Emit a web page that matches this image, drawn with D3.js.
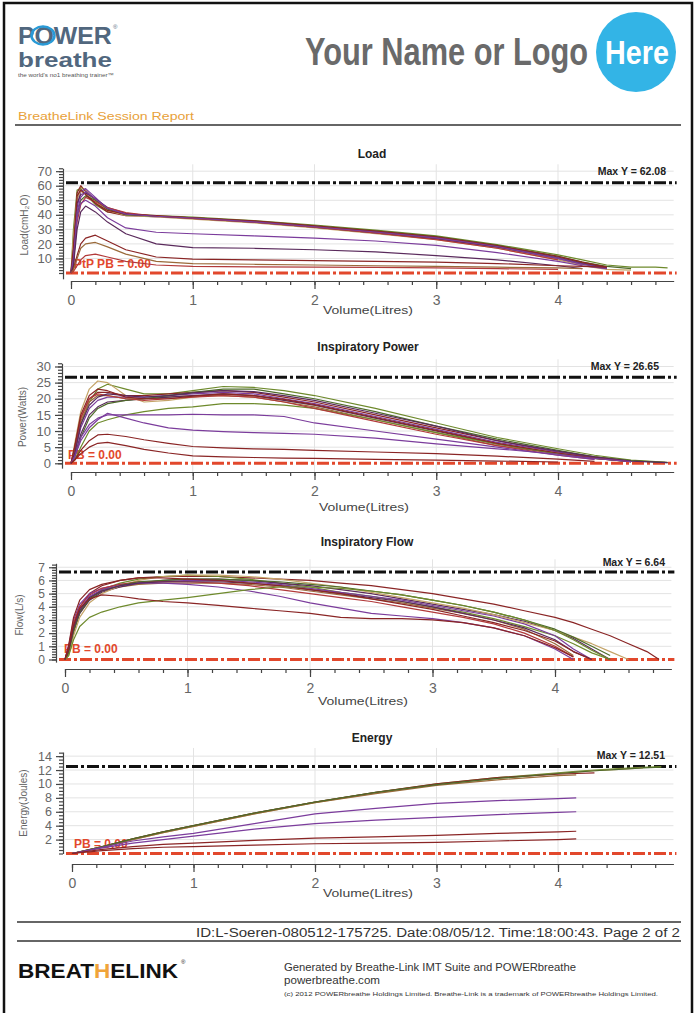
<!DOCTYPE html>
<html><head><meta charset="utf-8">
<script src="https://cdn.jsdelivr.net/npm/d3@7"></script>
<style>body{margin:0;background:#fff}svg{display:block}</style>
</head><body>
<script>
// ================= DATA =================
const xTicks = [0, 1, 2, 3, 4];
const loadTicks = [10, 20, 30, 40, 50, 60, 70];
const powerTicks = [0, 5, 10, 15, 20, 25, 30];
const flowTicks = [0, 1, 2, 3, 4, 5, 6, 7];
const energyTicks = [2, 4, 6, 8, 10, 12, 14];
const maxLoad = 62.08, maxPower = 26.65, maxFlow = 6.64, maxEnergy = 12.51;
const palette = ["#6e8a2c", "#8a2525", "#7b3c9c", "#9a6a3a", "#5a2a5c", "#b23a3a", "#c4a468", "#4e6a2a"];

// Load (cmH2O) vs volume
const loadVol = [0, 0.02, 0.05, 0.08, 0.12, 0.2, 0.3, 0.45, 0.7, 1.0, 1.5, 2.0, 2.5, 3.0, 3.5, 4.0, 4.2, 4.4, 4.6, 4.8, 4.9];
const loadSeries = [
  [0, 30, 57, 58, 54, 47, 42, 40.5, 39.5, 38.5, 36, 33, 29.5, 25.5, 19.5, 12.5, 9, 5.5, 4, 4, 3.5],
  [0, 20, 55, 60, 56, 48, 42, 39.5, 39, 38, 35.5, 32, 28.5, 24.5, 18.5, 11, 7, 3.5],
  [0, 10, 50, 59, 57, 50, 43, 40, 39, 37.5, 35, 31.5, 28, 24, 18, 10, 6, 3],
  [0, 5, 45, 56, 58, 52, 44, 40, 38.5, 37.5, 35, 31.5, 27.5, 23.5, 17.5, 9.5, 5.5],
  [0, 25, 52, 56, 55, 49, 43, 39.5, 38.5, 37, 34.5, 31, 27, 23, 17, 9, 5, 2.5, 2],
  [0, 15, 48, 54, 55, 51, 45, 41, 39, 37.5, 35, 31.5, 27.5, 23.5, 18, 10.5, 6.5, 3.5],
  [0, 12, 40, 50, 53, 50, 44, 40, 39, 38, 35.5, 32.5, 29, 25, 19, 11.5, 7.5, 4.5, 3],
  [0, 8, 35, 47, 52, 49, 45, 41.5, 39, 37.5, 35, 31.5, 27.5, 23, 17, 9],
  [0, 18, 53, 57, 54, 48, 43, 40.5, 39.5, 38, 35.8, 32.5, 28.8, 24.8, 18.8, 11.5, 7.5, 4],
  [0, 6, 42, 52, 56, 51, 44.5, 40.5, 39, 37.8, 35.2, 31.8, 28.2, 24.2, 18.2, 10.2, 6.2, 3],
  [0, 10, 38, 48, 50, 46, 38, 31, 28, 27, 25.5, 24, 22, 19, 14, 8, 5, 3],
  [0, 5, 30, 42, 46, 42, 35, 27, 20, 17.5, 17, 16, 14.5, 12, 9, 5, 3],
  [0, 3, 12, 20, 24, 26, 22, 16, 11, 9.5, 9, 8.5, 8, 7.5, 6.5, 5, 4.5, 4],
  [0, 2, 10, 17, 20, 21, 18, 13, 8, 6.5, 6, 5.5, 5, 4.5, 4, 3.5, 3],
  [0, 1, 5, 9, 12, 13, 11, 8, 5.5, 4.5, 4.2, 4, 3.8, 3.5, 3, 2.5]
];
const loadColors = [0, 1, 3, 2, 6, 4, 7, 5, 1, 2, 2, 4, 1, 3, 5];

// Inspiratory power (W) vs volume
const powerVol = [0, 0.03, 0.08, 0.15, 0.22, 0.3, 0.45, 0.6, 0.8, 1.0, 1.25, 1.5, 1.75, 2.0, 2.5, 3.0, 3.5, 4.0, 4.3, 4.6, 4.9];
const powerSeries = [
  [0, 4, 12, 19, 23, 24.5, 23, 21.5, 21.5, 22.5, 23.8, 23.5, 22.5, 21, 17, 12.5, 8, 4.5, 2.5, 1, 0.3],
  [0, 6, 16, 23, 25.5, 25, 21, 19, 19.5, 20.5, 21.5, 21, 19.5, 18, 14, 10, 6, 3, 1.5, 0.5],
  [0, 5, 14, 20, 22, 22, 21, 21, 21.5, 22, 22.5, 22, 20.5, 19, 15, 11, 7, 3.5, 2, 0.6],
  [0, 3, 11, 17, 19.5, 20.5, 20.5, 20.5, 21, 21.5, 22, 21.5, 20, 18.5, 14.5, 10.5, 6.5, 3.5, 1.8, 0.5],
  [0, 4, 13, 19, 21, 21, 20, 20, 20.5, 21, 21, 20.5, 19, 17.5, 13.5, 9.5, 5.5, 3, 1.5],
  [0, 2, 9, 15, 17.5, 19, 19.5, 20, 20.5, 21, 21.5, 21, 19.5, 18, 14, 10, 6, 3, 1.5, 0.5],
  [0, 2, 8, 14, 17, 18.5, 19.5, 20, 21, 22, 23, 23, 21.5, 20, 16, 11.5, 7.5, 4, 2, 0.8, 0.2],
  [0, 1, 5, 10, 12.5, 13.5, 15, 16, 17, 17.5, 18.5, 18.5, 18, 17, 13.5, 9.5, 6, 3, 1.5, 0.5],
  [0, 4, 14, 20, 21.5, 21, 20, 19.5, 20, 20.5, 21, 20.5, 19, 17, 13, 9, 5.5, 2.5, 1.2],
  [0, 3, 12, 18, 20.5, 21.5, 21, 20.5, 21, 21.8, 22.5, 22.2, 21, 19.5, 15.5, 11.5, 7, 3.8, 2, 0.7, 0.2],
  [0, 5, 15, 21, 23, 22.5, 20.5, 20, 20, 20.8, 21.5, 21, 19.8, 18.2, 14.2, 10.2, 6.2, 3.2, 1.6, 0.5],
  [0, 2, 8, 12, 14, 15, 15, 15, 15, 15.2, 15, 15, 14.5, 12.5, 10, 7.5, 5, 2.5, 1.2],
  [0, 2, 7, 11, 13.5, 15.5, 14, 12.5, 11, 10.3, 9.8, 9.5, 9.3, 9, 7.8, 6, 4.5, 2.8, 1.5, 0.5],
  [0, 1, 4, 7, 8.8, 9, 8.3, 7.3, 6.2, 5.2, 4.8, 4.5, 4.3, 4, 3.5, 3, 2.2, 1.3, 0.6],
  [0, 1, 3, 5, 6.2, 6.5, 5.5, 4.3, 3.2, 2.3, 2, 1.8, 1.6, 1.5, 1.2, 1, 0.7, 0.4]
];
const powerColors = [0, 6, 1, 2, 3, 4, 7, 0, 5, 4, 1, 2, 2, 1, 1];

// Inspiratory flow (L/s) vs volume
const flowVol = [0, 0.03, 0.07, 0.12, 0.2, 0.3, 0.45, 0.6, 0.8, 1.0, 1.25, 1.5, 1.75, 2.0, 2.25, 2.5, 2.75, 3.0, 3.25, 3.5, 3.75, 4.0, 4.15, 4.3, 4.45, 4.6, 4.75, 4.85];
const flowSeries = [
  [0, 1, 2.5, 4, 5, 5.6, 6, 6.2, 6.3, 6.3, 6.3, 6.2, 6.1, 6, 5.8, 5.6, 5.3, 5, 4.6, 4.2, 3.7, 3.2, 2.8, 2.3, 1.8, 1.2, 0.6, 0],
  [0, 0.5, 2, 3.5, 4.6, 5.3, 5.8, 6.1, 6.3, 6.4, 6.3, 6.1, 5.8, 5.5, 5.1, 4.8, 4.4, 4.0, 3.6, 3.1, 2.5, 1.8, 1.2, 0.5, 0],
  [0, 1, 3, 4.2, 5, 5.4, 5.7, 5.8, 5.9, 6.0, 6.0, 5.9, 5.7, 5.4, 5.1, 4.8, 4.5, 4.1, 3.7, 3.3, 2.7, 1.8, 0.8, 0],
  [0, 0.8, 2.6, 3.8, 4.7, 5.2, 5.5, 5.7, 5.8, 5.8, 5.8, 5.7, 5.5, 5.2, 4.9, 4.6, 4.3, 3.9, 3.5, 3.0, 2.3, 1.2, 0.3],
  [0, 0.6, 2.2, 3.5, 4.5, 5.1, 5.5, 5.8, 6.0, 6.1, 6.1, 6.0, 5.8, 5.6, 5.3, 5.0, 4.6, 4.2, 3.8, 3.4, 2.9, 2.2, 1.6, 0.8, 0],
  [0, 0.3, 1.8, 3.2, 4.3, 5.0, 5.6, 6.0, 6.3, 6.4, 6.4, 6.3, 6.1, 5.8, 5.5, 5.1, 4.7, 4.3, 3.9, 3.4, 2.8, 2.2, 1.7, 1.2, 0.6, 0],
  [0, 0.9, 2.8, 4.0, 4.9, 5.4, 5.7, 5.9, 5.9, 5.9, 5.8, 5.6, 5.3, 5.0, 4.7, 4.4, 4.0, 3.6, 3.2, 2.7, 2.0, 1.0, 0.2],
  [0, 0.7, 2.5, 3.8, 4.8, 5.3, 5.6, 5.8, 5.8, 5.7, 5.5, 5.2, 4.8, 4.3, 3.9, 3.5, 3.3, 3.1, 2.8, 2.4, 1.8, 0.8, 0],
  [0, 0.5, 2.2, 3.6, 4.6, 5.2, 5.6, 5.9, 6.0, 6.1, 6.1, 6.0, 5.9, 5.7, 5.5, 5.2, 4.9, 4.5, 4.1, 3.6, 3.0, 2.3, 1.7, 1.0, 0.3],
  [0, 0.7, 2.4, 3.7, 4.7, 5.2, 5.6, 5.8, 5.9, 5.9, 5.9, 5.8, 5.6, 5.3, 5.0, 4.7, 4.4, 4.0, 3.5, 3.0, 2.4, 1.5, 0.6, 0],
  [0, 1.1, 3.2, 4.5, 5.3, 5.7, 6.0, 6.2, 6.2, 6.1, 6.0, 5.8, 5.6, 5.3, 5.0, 4.6, 4.2, 3.8, 3.3, 2.8, 2.2, 1.4, 0.6, 0],
  [0, 0.3, 1.5, 2.5, 3.2, 3.6, 4.0, 4.3, 4.5, 4.7, 5.0, 5.3, 5.5, 5.5, 5.4, 5.2, 4.9, 4.5, 4.1, 3.6, 3.0, 2.2, 1.5, 0.7, 0],
  [0, 0.8, 2.6, 3.9, 4.6, 4.9, 4.8, 4.6, 4.4, 4.3, 4.1, 3.9, 3.7, 3.5, 3.2, 3.1, 3.1, 3.0, 2.8, 2.4, 1.8, 0.9, 0.2]
];
const flowColors = [1, 0, 2, 3, 4, 6, 5, 2, 7, 4, 1, 0, 1];

// Energy (J) vs volume
const energyVol = [0, 0.25, 0.5, 0.75, 1.0, 1.5, 2.0, 2.5, 3.0, 3.5, 4.0, 4.15, 4.3, 4.5, 4.7, 4.85];
const energySeries = [
  [0, 1.0, 2.1, 3.1, 4.0, 5.8, 7.4, 8.8, 10.0, 10.9, 11.6, 11.8, 12.0, 12.2, 12.4, 12.5],
  [0, 0.9, 2.0, 3.0, 3.9, 5.7, 7.3, 8.7, 9.9, 10.8, 11.5, 11.7, 11.9, 12.1, 12.3],
  [0, 1.0, 2.1, 3.1, 4.0, 5.8, 7.4, 8.8, 10.0, 10.9, 11.4, 11.5, 11.6],
  [0, 0.9, 2.0, 3.0, 3.9, 5.7, 7.3, 8.6, 9.8, 10.6, 11.2, 11.3],
  [0, 1.0, 2.1, 3.1, 4.0, 5.8, 7.4, 8.8, 9.9, 10.8, 11.5, 11.7, 11.9, 12.1, 12.3, 12.4],
  [0, 0.9, 1.8, 2.4, 2.9, 4.3, 5.7, 6.5, 7.2, 7.6, 7.9, 8.0],
  [0, 0.8, 1.5, 2.0, 2.5, 3.5, 4.3, 4.8, 5.2, 5.6, 5.9, 6.0],
  [0, 0.6, 1.0, 1.3, 1.5, 1.9, 2.2, 2.4, 2.6, 2.9, 3.1, 3.2],
  [0, 0.4, 0.7, 0.9, 1.0, 1.2, 1.4, 1.5, 1.6, 1.8, 2.0, 2.1]
];
const energyColors = [0, 6, 1, 3, 7, 2, 2, 1, 1];

// ================= DRAWING =================
const W = 696, H = 1013;
const svg = d3.select("body").append("svg").attr("width", W).attr("height", H)
  .style("font-family", "'Liberation Sans', Arial, sans-serif");

// page frame
svg.append("path").attr("d", `M4,${H} V3 H692 V${H}`).attr("fill", "none")
  .attr("stroke", "#111").attr("stroke-width", 2.5);

// ---- header ----
const hdr = svg.append("g");
hdr.append("text").attr("transform", "translate(18,43.5) scale(1.08,1)").text("POWER")
  .attr("font-size", 23).attr("font-weight", "bold").attr("fill", "#51677e");
hdr.append("ellipse").attr("cx", 43).attr("cy", 35.5).attr("rx", 11.5).attr("ry", 9)
  .attr("fill", "none").attr("stroke", "#2a9ad6").attr("stroke-width", 2.5);
hdr.append("text").attr("x", 113).attr("y", 29).text("®").attr("font-size", 6).attr("fill", "#51677e");
hdr.append("text").attr("transform", "translate(18,67) scale(1.3,1)").text("breathe")
  .attr("font-size", 20).attr("font-weight", "bold").attr("fill", "#51677e");
hdr.append("text").attr("x", 18).attr("y", 77).text("the world's no1 breathing trainer™")
  .attr("font-size", 5.5).attr("fill", "#555")
  .attr("textLength", 96).attr("lengthAdjust", "spacingAndGlyphs");

hdr.append("text").attr("transform", "translate(305,65) scale(0.81,1)").text("Your Name or Logo")
  .attr("font-size", 38).attr("font-weight", "bold").attr("fill", "#6a6a6a");
hdr.append("circle").attr("cx", 636).attr("cy", 52).attr("r", 40).attr("fill", "#33b4e6");
hdr.append("text").attr("transform", "translate(637,64) scale(0.87,1)").attr("text-anchor", "middle").text("Here")
  .attr("font-size", 33).attr("font-weight", "bold").attr("fill", "#fff");

hdr.append("text").attr("x", 18).attr("y", 120).text("BreatheLink Session Report")
  .attr("font-size", 11).attr("fill", "#e8a13a")
  .attr("textLength", 176).attr("lengthAdjust", "spacingAndGlyphs");
hdr.append("line").attr("x1", 15).attr("x2", 681).attr("y1", 125).attr("y2", 125)
  .attr("stroke", "#333").attr("stroke-width", 1.5);

// ---- panels ----
const panels = [
  { title: "Load", titleX: 372, titleY: 158, x0: 71, xUnit: 121.75, axisX: 63, zeroY: 273, maxY: 182.7,
    maxVal: maxLoad, yLo: -4, yHi: 72, yTicks: loadTicks, yMinor: 2, axisY: 281, yFont: 13,
    vol: loadVol, series: loadSeries, colors: loadColors, yLabel: "Load(cmH₂O)", yLabelX: 28, yLabelY: 225,
    pb: "PtP PB = 0.00", pbX: 74, pbY: 268, maxText: "Max Y = 62.08", maxTextX: 666, maxTextY: 175, xLabelY: 314 },
  { title: "Inspiratory Power", titleX: 368, titleY: 351, x0: 71, xUnit: 121.75, axisX: 62, zeroY: 463.3, maxY: 377.3,
    maxVal: maxPower, yLo: -1.5, yHi: 31, yTicks: powerTicks, yMinor: 1, axisY: 472, yFont: 13,
    vol: powerVol, series: powerSeries, colors: powerColors, yLabel: "Power(Watts)", yLabelX: 26, yLabelY: 417,
    pb: "PB = 0.00", pbX: 68, pbY: 459, maxText: "Max Y = 26.65", maxTextX: 659, maxTextY: 370, xLabelY: 511 },
  { title: "Inspiratory Flow", titleX: 367, titleY: 546, x0: 65, xUnit: 122.5, axisX: 56, zeroY: 659.5, maxY: 572,
    maxVal: maxFlow, yLo: -0.2, yHi: 7.3, yTicks: flowTicks, yMinor: 0.2, axisY: 669, yFont: 12,
    vol: flowVol, series: flowSeries, colors: flowColors, yLabel: "Flow(L/s)", yLabelX: 23, yLabelY: 615,
    pb: "PB = 0.00", pbX: 64, pbY: 653, maxText: "Max Y = 6.64", maxTextX: 665, maxTextY: 566, xLabelY: 705 },
  { title: "Energy", titleX: 372, titleY: 742, x0: 72, xUnit: 121.5, axisX: 63, zeroY: 853.5, maxY: 766.5,
    maxVal: maxEnergy, yLo: 0, yHi: 14.6, yTicks: energyTicks, yMinor: 0.5, axisY: 864, yFont: 12.5,
    vol: energyVol, series: energySeries, colors: energyColors, yLabel: "Energy(Joules)", yLabelX: 27, yLabelY: 803,
    pb: "PB = 0.00", pbX: 74, pbY: 848, maxText: "Max Y = 12.51", maxTextX: 665, maxTextY: 759, xLabelY: 897 }
];

const dashPattern = "12,3,3,3";

panels.forEach(p => {
  const g = svg.append("g");
  const xMax = 4.95;
  const x = d3.scaleLinear().domain([0, xMax]).range([p.x0, p.x0 + xMax * p.xUnit]);
  const k = (p.zeroY - p.maxY) / p.maxVal;
  const y = d3.scaleLinear().domain([p.yLo, p.yHi]).range([p.zeroY - p.yLo * k, p.zeroY - p.yHi * k]);
  const xr = x(xMax);
  const topY = y(p.yHi);

  // title
  g.append("text").attr("x", p.titleX).attr("y", p.titleY).attr("text-anchor", "middle")
    .attr("font-size", 12).attr("font-weight", "bold").attr("fill", "#222").text(p.title);

  // gridlines
  g.append("g").selectAll("line").data(p.yTicks.filter(t => t > 0)).join("line")
    .attr("x1", p.axisX + 2).attr("x2", xr).attr("y1", d => y(d)).attr("y2", d => y(d))
    .attr("stroke", "#e3e3e3").attr("stroke-width", 1);
  g.append("g").selectAll("line").data(xTicks.slice(1)).join("line")
    .attr("x1", d => x(d)).attr("x2", d => x(d)).attr("y1", topY - 4).attr("y2", p.axisY)
    .attr("stroke", "#e3e3e3").attr("stroke-width", 1);

  // y axis (minor + major)
  const yMin = g.append("g").attr("transform", `translate(${p.axisX},0)`)
    .call(d3.axisLeft(y).tickValues(d3.range(0, p.yHi + 1e-6, p.yMinor)).tickSize(4).tickSizeOuter(0).tickFormat(""));
  yMin.selectAll(".tick text").remove();
  const yMaj = g.append("g").attr("transform", `translate(${p.axisX},0)`)
    .call(d3.axisLeft(y).tickValues(p.yTicks).tickSize(7).tickSizeOuter(0).tickPadding(4));
  yMaj.select(".domain").remove();
  yMaj.selectAll(".tick text").attr("font-size", p.yFont).attr("fill", "#666")
    .attr("font-family", "'Liberation Sans', Arial, sans-serif");

  // x axis (minor + major)
  const xMin = g.append("g").attr("transform", `translate(0,${p.axisY})`)
    .call(d3.axisBottom(x).tickValues(d3.range(0, 4.81, 0.2)).tickSize(4).tickSizeOuter(0).tickFormat(""));
  xMin.selectAll(".tick text").remove();
  const xAxisMaj = g.append("g").attr("transform", `translate(0,${p.axisY})`)
    .call(d3.axisBottom(x).tickValues(xTicks).tickSize(8).tickSizeOuter(0).tickPadding(6).tickFormat(d3.format("d")));
  xAxisMaj.select(".domain").remove();
  xAxisMaj.selectAll(".tick text").attr("font-size", 14).attr("fill", "#666")
    .attr("font-family", "'Liberation Sans', Arial, sans-serif");
  g.selectAll(".domain, .tick line").attr("stroke", "#444").attr("stroke-width", 1.2);

  // axis titles
  g.append("text").attr("x", p.titleX - 4).attr("y", p.xLabelY).attr("text-anchor", "middle")
    .attr("font-size", 11).attr("fill", "#444").text("Volume(Litres)")
    .attr("textLength", 90).attr("lengthAdjust", "spacingAndGlyphs");
  g.append("text").attr("transform", `translate(${p.yLabelX},${p.yLabelY}) rotate(-90)`)
    .attr("text-anchor", "middle").attr("font-size", 10).attr("fill", "#666").text(p.yLabel);

  // reference lines
  g.append("line").attr("x1", p.axisX + 3).attr("x2", xr + 3).attr("y1", y(0)).attr("y2", y(0))
    .attr("stroke", "#e2482c").attr("stroke-width", 3).attr("stroke-dasharray", dashPattern);
  g.append("line").attr("x1", p.axisX + 3).attr("x2", xr + 3).attr("y1", y(p.maxVal)).attr("y2", y(p.maxVal))
    .attr("stroke", "#111").attr("stroke-width", 3).attr("stroke-dasharray", dashPattern);
  g.append("text").attr("x", p.maxTextX).attr("y", p.maxTextY).attr("text-anchor", "end")
    .attr("font-size", 10.5).attr("font-weight", "bold").attr("fill", "#222").text(p.maxText);

  // PB label (beneath curves)
  g.append("text").attr("x", p.pbX).attr("y", p.pbY).attr("font-size", 12).attr("font-weight", "bold")
    .attr("fill", "#e2482c").text(p.pb);

  // curves
  const line = d3.line().x(d => x(d[0])).y(d => y(d[1]));
  g.append("g").selectAll("path").data(p.series).join("path")
    .attr("d", s => line(s.map((v, i) => [p.vol[i], v])))
    .attr("fill", "none")
    .attr("stroke", (s, i) => palette[p.colors[i]])
    .attr("stroke-width", 1.2)
    .attr("stroke-linejoin", "round");
});

// ---- footer ----
const ft = svg.append("g");
ft.append("line").attr("x1", 17).attr("x2", 681).attr("y1", 922).attr("y2", 922).attr("stroke", "#333").attr("stroke-width", 1.5);
ft.append("line").attr("x1", 17).attr("x2", 681).attr("y1", 941).attr("y2", 941).attr("stroke", "#333").attr("stroke-width", 1.5);
ft.append("text").attr("x", 680).attr("y", 937).attr("text-anchor", "end")
  .text("ID:L-Soeren-080512-175725. Date:08/05/12. Time:18:00:43.  Page 2 of 2")
  .attr("font-size", 12).attr("fill", "#333")
  .attr("textLength", 484).attr("lengthAdjust", "spacingAndGlyphs");

const bl = ft.append("text").attr("x", 18).attr("y", 978).attr("font-size", 21).attr("font-weight", "bold")
  .attr("fill", "#111").attr("textLength", 160).attr("lengthAdjust", "spacingAndGlyphs");
bl.append("tspan").text("BREAT");
bl.append("tspan").attr("fill", "#f0a43a").text("H");
bl.append("tspan").text("ELINK");
ft.append("text").attr("x", 181).attr("y", 964).attr("font-size", 6).attr("fill", "#111").text("®");

ft.append("text").attr("x", 284).attr("y", 971).text("Generated by Breathe-Link IMT Suite and POWERbreathe")
  .attr("font-size", 10).attr("fill", "#333").attr("textLength", 292).attr("lengthAdjust", "spacingAndGlyphs");
ft.append("text").attr("x", 284).attr("y", 984).text("powerbreathe.com")
  .attr("font-size", 10).attr("fill", "#333").attr("textLength", 96).attr("lengthAdjust", "spacingAndGlyphs");
ft.append("text").attr("x", 284).attr("y", 996).text("(c) 2012 POWERbreathe Holdings Limited. Breathe-Link is a trademark of POWERbreathe Holdings Limited.")
  .attr("font-size", 6).attr("fill", "#333").attr("textLength", 374).attr("lengthAdjust", "spacingAndGlyphs");
</script>
</body></html>
